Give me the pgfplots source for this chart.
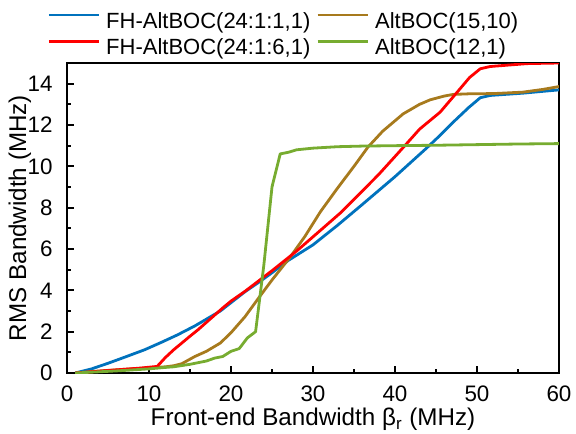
\documentclass[border=0pt]{standalone}
\usepackage{fontspec}
\setmainfont{Liberation Sans}
\usepackage{pgfplots}
\pgfplotsset{compat=1.18}

\definecolor{cBlue}{RGB}{0,114,189}
\definecolor{cRed}{RGB}{255,0,0}
\definecolor{cBrown}{RGB}{167,122,29}
\definecolor{cGreen}{RGB}{119,172,48}

\newcommand{\legendfont}{\fontsize{11bp}{13bp}\selectfont}
\newcommand{\tickfont}{\fontsize{11.2bp}{13bp}\selectfont}
\newcommand{\labelfont}{\fontsize{12.1bp}{14bp}\selectfont}

\begin{document}
\begin{tikzpicture}
\begin{axis}[
  scale only axis,
  width=246bp, height=155bp,
  xmin=0, xmax=60, ymin=0, ymax=15,
  xtick={0,10,...,60}, ytick={0,2,...,14},
  minor x tick num=1, minor y tick num=1,
  tick align=inside,
  xtick pos=bottom, ytick pos=left,
  major tick length=3.3bp, minor tick length=1.8bp,
  axis line style={line width=0.9bp, black},
  every tick/.style={line width=0.9bp, black},
  /pgf/number format/assume math mode=true,
  tick label style={font=\tickfont},
  xticklabel style={inner sep=0pt, anchor=north, yshift=-6bp},
  yticklabel style={inner sep=0pt, anchor=east, xshift=-7bp},
  xlabel={Front-end Bandwidth β\textsubscript{r} (MHz)},
  ylabel={RMS Bandwidth (MHz)},
  label style={font=\labelfont},
  xlabel style={at={(axis description cs:0.5,-0.1697)}, anchor=base, inner sep=0pt},
  ylabel style={at={(axis description cs:-0.0833,0.5)}, anchor=base, inner sep=0pt},
  legend columns=2,
  legend style={
    at={(axis description cs:-0.0407,1.0174)}, anchor=south west,
    draw=none, fill=none, inner sep=0pt, font=\legendfont,
    nodes={inner sep=0pt},
    row sep=3.6bp,
    /tikz/every odd column/.append style={column sep=3bp},
    /tikz/every even column/.append style={column sep=3bp},
  },
  legend cell align=left,
  legend image code/.code={\draw[#1] (0bp,3.3bp) -- (25bp,3.3bp);},
  every axis plot/.append style={line width=1.4bp, line join=round},
]

% FH-AltBOC(24:1:1,1)
\addplot[cBlue] coordinates {
  (1,0) (3,0.2) (5,0.47) (7,0.76) (9.5,1.13) (11.6,1.5) (13.5,1.85)
  (15.6,2.28) (18.7,3.0) (21.7,3.93) (23.5,4.42) (25,4.85) (27,5.45)
  (30,6.2) (33,7.15) (36,8.15) (40,9.5) (43.9,10.9) (45.5,11.5)
  (47,12.1) (49,12.85) (50.4,13.32) (51.6,13.43) (55.6,13.54) (60,13.7)
};
\addlegendentry{FH-AltBOC(24:1:1,1)}

% AltBOC(15,10)
\addplot[cBrown] coordinates {
  (1,0) (4,0.1) (7,0.18) (10,0.25) (12,0.3) (13,0.35) (14,0.45)
  (15.6,0.8) (17,1.05) (18.7,1.45) (20,1.95) (21.7,2.72) (23.5,3.7)
  (25,4.5) (27.2,5.6) (29,6.6) (30.9,7.8) (33,8.95) (35,10.0)
  (36.7,10.93) (38.5,11.7) (41,12.54) (43,13.0) (44.3,13.22) (46,13.4)
  (47.1,13.48) (49.1,13.51) (52,13.52) (55.6,13.59) (58,13.72) (60,13.86)
};
\addlegendentry{AltBOC(15,10)}

% FH-AltBOC(24:1:6,1)
\addplot[cRed] coordinates {
  (1,0) (3,0.06) (5,0.12) (7,0.18) (9,0.24) (11,0.32) (12,0.75)
  (13,1.12) (14,1.45) (15,1.78) (16,2.1) (17,2.45) (18,2.8) (19,3.15)
  (20,3.48) (21.7,3.95) (25,4.95) (28,5.9) (30.9,6.9) (33.3,7.73)
  (36,8.8) (38,9.6) (41.2,11.0) (43,11.8) (45.5,12.62) (47.5,13.55)
  (49.1,14.3) (50.4,14.72) (51.6,14.83) (56.1,14.97) (60,15.0)
};
\addlegendentry{FH-AltBOC(24:1:6,1)}

% AltBOC(12,1)
\addplot[cGreen] coordinates {
  (1,0) (2,0.02) (4,0.06) (6,0.1) (8,0.15) (10,0.2) (12,0.27) (13,0.3)
  (14,0.36) (15,0.42) (16,0.5) (17,0.58) (18,0.72) (19,0.8) (20,1.05)
  (21,1.18) (22,1.7) (23,2.0) (24,5.2) (25,9.0) (26,10.6) (27,10.68)
  (28,10.8) (30,10.88) (33,10.95) (36,10.98) (40,11.0) (45,11.02)
  (50,11.05) (55,11.08) (60,11.1)
};
\addlegendentry{AltBOC(12,1)}

\end{axis}
\pgfresetboundingbox
\path (-33.5bp,-30.5bp) rectangle (254.5bp,186.5bp);
\end{tikzpicture}
\end{document}
